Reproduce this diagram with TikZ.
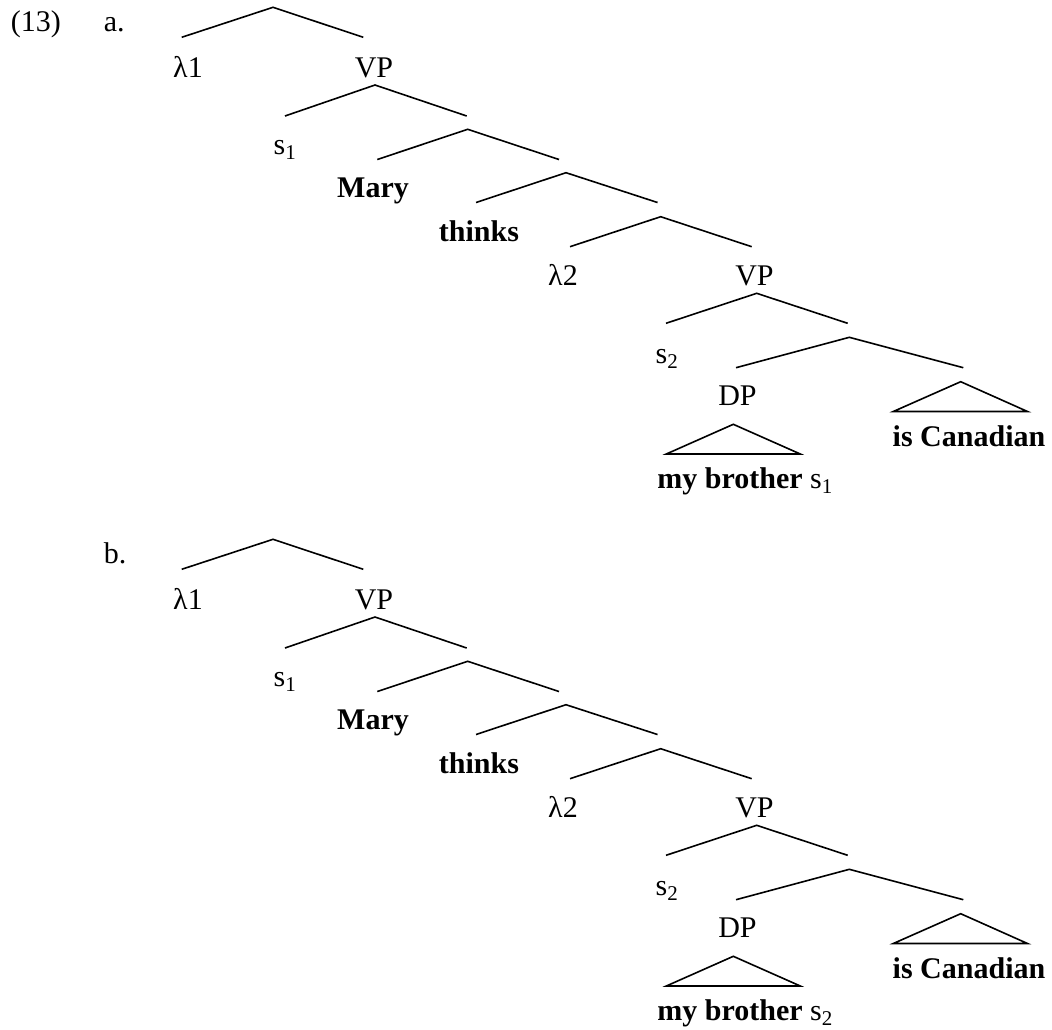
\documentclass[tikz,border=0pt]{standalone}
\usepackage{fontspec}
\setmainfont{Liberation Serif}
\tikzset{
  lab/.style={anchor=base,inner sep=0pt},
  leaf/.style={lab,font=\fontsize{30}{36}\selectfont\bfseries}
}
\begin{document}
\begin{tikzpicture}[x=1pt,y=-1pt,line width=1.6pt,font=\fontsize{30}{36}\selectfont]
\useasboundingbox (0,0) rectangle (1052,1029);
\node[lab,anchor=base west] (ex) at (10,31.5) {(13)};
% the two trees differ only in the index of the last s
\foreach \t/\dy/\n in {a/0/1,b/532/2}{
  \node[lab,anchor=base west] (\t) at (103,{31.5+\dy}) {\t.};
  % branchings: apex x, apex y, left end x, right end x, end y
  \foreach \k/\x/\y/\xl/\xr/\ye in {0/273/7.3/181.7/363.3/37.3,1/375/85/285/466.7/116,2/467.7/129.3/377.3/559/159.5,3/566/172.7/476/657.5/202.5,4/660.7/216.7/570/751.7/246.7,5/756.7/293.3/666/847.7/323.3,6/849.3/337.3/736/963.3/367.7}{
    \coordinate (\t\k) at (\x,{\y+\dy});
    \coordinate (\t\k-l) at (\xl,{\ye+\dy});
    \coordinate (\t\k-r) at (\xr,{\ye+\dy});
    \draw (\t\k-l) -- (\t\k) -- (\t\k-r);
  }
  \coordinate (\t-dp) at (733.3,{424.3+\dy});
  \coordinate (\t-ic) at (960.7,{381.7+\dy});
  \draw (\t-dp) -- ++(-67,29.7) -- ++(134,0) -- cycle;
  \draw (\t-ic) -- ++(-67.4,29.8) -- ++(134.2,0) -- cycle;
  \node[lab] (\t-lam1) at (188,{77+\dy}) {λ1};
  \node[lab] (\t-vp1) at (374,{77+\dy}) {VP};
  \node[lab] (\t-s1) at (285,{154+\dy}) {s\textsubscript{1}};
  \node[leaf] (\t-mary) at (373,{197+\dy}) {Mary};
  \node[leaf] (\t-thinks) at (479,{241+\dy}) {thinks};
  \node[lab] (\t-lam2) at (563,{285+\dy}) {λ2};
  \node[lab] (\t-vp2) at (754.5,{285+\dy}) {VP};
  \node[lab] (\t-s2) at (667,{363+\dy}) {s\textsubscript{2}};
  \node[lab] (\t-dpl) at (737.5,{405+\dy}) {DP};
  \node[leaf] (\t-can) at (969,{446.7+\dy}) {is Canadian};
  \node[leaf] (\t-bro) at (730,{488+\dy}) {my brother\rlap{\mdseries\ s\textsubscript{\n}}};
}
\end{tikzpicture}
\end{document}
